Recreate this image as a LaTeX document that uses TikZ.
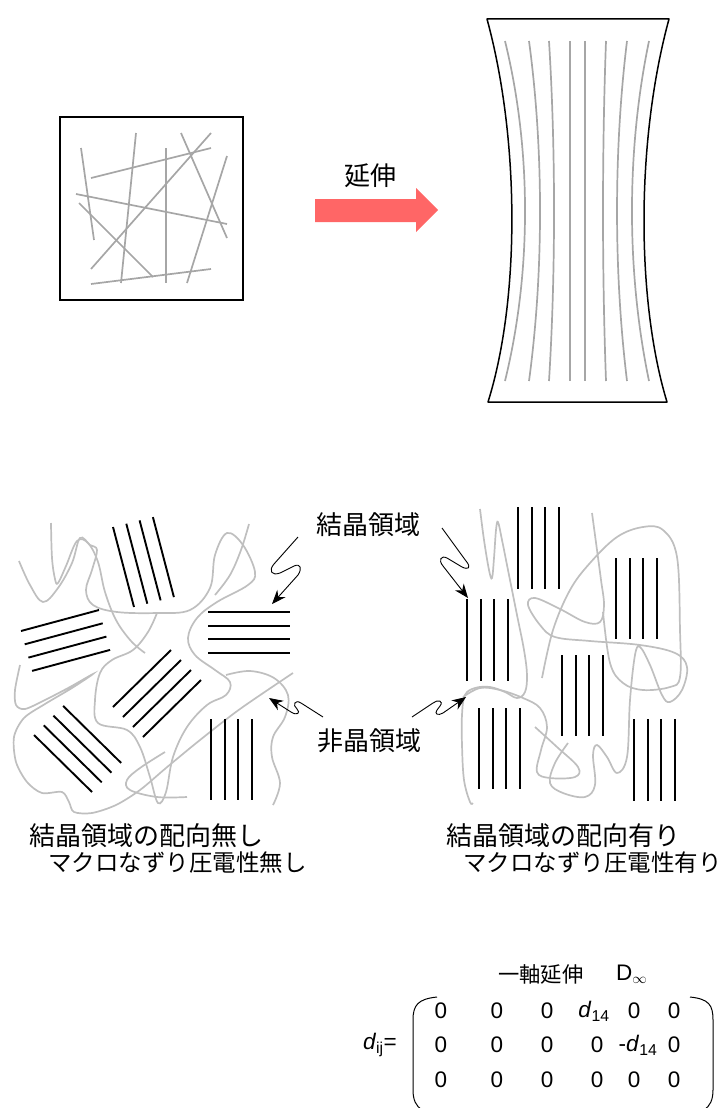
\documentclass[tikz,border=0pt]{standalone}
\usepackage{fontspec}
\setmainfont{Liberation Sans}
\newfontfamily\jp{Noto Sans CJK JP}
\usetikzlibrary{arrows.meta}
\definecolor{fibgray}{HTML}{A6A6A6}
\definecolor{amgray}{HTML}{BFBFBF}
\definecolor{pullred}{HTML}{FF6666}

\begin{document}
\begin{tikzpicture}[x=1pt,y=-1pt,
  outline/.style={draw=black,line width=1.5pt},
  fib/.style={draw=fibgray,line width=1.7pt},
  amor/.style={draw=amgray,line width=1.7pt},
  xtal/.style={draw=black,line width=1.9pt},
  callout/.style={draw=black,line width=0.9pt,-{Stealth[length=14pt,width=11pt]}},
  jbig/.style={font=\jp\fontsize{26}{30}\selectfont,inner sep=0pt},
  jcap/.style={font=\jp\fontsize{26}{30}\selectfont,inner sep=0pt,anchor=west},
  jcapsmall/.style={font=\jp\fontsize{23.5}{28}\selectfont,inner sep=0pt,anchor=west},
  mat/.style={font=\fontsize{22.5}{26}\selectfont,inner sep=0pt},
]
\useasboundingbox (0,0) rectangle (727,1108);

% ---------- unstretched film: random fibres in a square ----------
\node[outline,minimum width=183pt,minimum height=183pt,inner sep=0pt] (film) at (151.5,208.5) {};
\draw[fib] (81,148) -- (94,240);
\draw[fib] (91,178) -- (211,148);
\draw[fib] (136,133) -- (121,283);
\draw[fib] (166,148) -- (166,283);
\draw[fib] (181,133) -- (227,238);
\draw[fib] (211,133) -- (91,269);
\draw[fib] (76,194) -- (227,224);
\draw[fib] (79,203) -- (153,277);
\draw[fib] (227,156) -- (187,283);
\draw[fib] (91,284) -- (211,269);

% ---------- stretching arrow ----------
\fill[pullred] (315,199) -- (416,199) -- (416,188) -- (438,210) -- (416,232) -- (416,222) -- (315,222) -- cycle;
\node[jbig] (pull) at (370,176) {延伸};

% ---------- stretched film ----------
\draw[outline,line join=round] (487,19) -- (669,19)
  .. controls (636,140) and (636,300) .. (667,402) -- (488,402)
  .. controls (520,300) and (520,140) .. (487,19) -- cycle;
\foreach \xt/\xc in {505/531.7,529/543.7,549/555.7,570/570,585/585,606/602,627/613.7,649/626.3}
  \draw[fib] (\xt,41) .. controls (\xc,150) and (\xc,272) .. (\xt,381);

% ---------- left: amorphous chains ----------
\draw[amor] plot[smooth,tension=0.6] coordinates {(19,561) (30,585) (43,602) (58,588) (72,563) (80,538) (90,545) (97,550) (92,570) (86,590) (93,605) (117,612) (157,613) (190,610) (210,588) (215,555) (227,533) (243,545) (255,572) (248,585) (217,602) (197,618) (188,638) (195,655) (215,670) (230,682) (226,695) (207,705) (187,727) (173,757) (166,792) (158,803) (150,777) (140,747) (127,730) (98,723) (95,700) (100,673) (112,660) (133,650) (148,632) (157,613)};
\draw[amor] plot[smooth,tension=0.6] coordinates {(51,523) (52,558) (55,579) (58,583) (66,566) (77,541) (88,543) (98,562) (105,592) (116,620) (131,641) (145,653)};
\draw[amor] plot[smooth,tension=0.6] coordinates {(249,524) (241,550) (230,575) (215,595)};
\draw[amor] plot[smooth,tension=0.5] coordinates {(20,665) (15,690) (16,705) (25,709) (45,700) (70,687) (93,674) (72,688) (45,704) (24,718) (14,737) (16,762) (27,782) (42,793) (62,792) (69,802) (74,812) (92,813) (116,805) (140,790) (166,768) (200,740) (240,709) (293,673)};
\draw[amor] plot[smooth,tension=0.6] coordinates {(187,797) (157,797) (130,790) (127,780) (140,768) (165,752)};
\draw[amor] plot[smooth,tension=0.6] coordinates {(226,675) (250,671) (274,678) (288,695) (285,717) (273,737) (272,757) (280,783) (273,805)};

% ---------- left: randomly oriented crystallites ----------
\foreach \i in {0,...,3} {
  \draw[xtal,shift={(\i*13.3,-\i*3.3)}] (113,527) -- (134,607);
  \draw[xtal,shift={(\i*3.7,\i*13.3)}] (21,631) -- (99,610);
  \draw[xtal,shift={(0,\i*13.7)}] (208,612) -- (290,612);
  \draw[xtal,shift={(\i*10,\i*10)}] (113,707) -- (171,650);
  \draw[xtal,shift={(\i*9.7,-\i*9.7)}] (34,735) -- (92,792);
  \draw[xtal,shift={(\i*13.7,0)}] (211,719) -- (211,800);
}

% ---------- right: amorphous chains ----------
\draw[amor] plot[smooth,tension=0.6] coordinates {(480,509) (484,540) (489,570) (492,578) (494,558) (496,530) (498,522) (502,540) (508,570) (517,615) (524,650) (527,675) (525,692) (517,698) (505,692) (490,687) (475,688) (465,695) (462,715) (462,745) (464,780) (470,802) (473,803)};
\draw[amor] plot[smooth,tension=0.6] coordinates {(463,697) (480,688) (500,690) (523,698) (540,708) (547,727) (541,750) (537,772) (550,778) (575,777) (578,767) (557,747) (535,727)};
\draw[amor] plot[smooth,tension=0.6] coordinates {(568,743) (555,763) (550,783) (563,793) (585,797) (595,785) (593,755) (597,745) (607,757) (617,773) (627,757) (630,700) (635,655) (640,647) (650,665) (662,695) (670,702) (682,690) (687,667) (675,653) (640,645) (590,641) (555,637) (540,625) (528,605) (535,598) (560,609) (585,622) (600,622) (604,605) (601,580) (597,550) (592,513)};
\draw[amor] plot[smooth,tension=0.6] coordinates {(542,678) (553,630) (570,590) (590,563) (617,537) (643,527) (663,530) (677,557) (680,630) (680,677) (670,687) (643,690) (623,683) (610,663) (603,612)};

% ---------- right: aligned crystallites ----------
\foreach \xs/\ya/\yb in {518/507/589,467/599/681,616/558/639,562/655/736,479/708/789,634/719/801}
  \foreach \i in {0,...,3}
    \draw[xtal,shift={(\i*13.7,0)}] (\xs,\ya) -- (\xs,\yb);

% ---------- region labels and call-outs ----------
\node[jbig] (cryst) at (368,525) {結晶領域};
\node[jbig] (amorph) at (369,741) {非晶領域};
\coordinate (cL) at (298,537);  \coordinate (cLt) at (272,604);
\coordinate (cR) at (442,528);  \coordinate (cRt) at (468,598);
\coordinate (aL) at (323,717);  \coordinate (aLt) at (269,698);
\coordinate (aR) at (412,717);  \coordinate (aRt) at (466,697);
\draw[callout] (cL) -- (274,564) .. controls (268,571) and (272,576) .. (280,573) -- (294,566)
  .. controls (301,563) and (302,569) .. (298,575) -- (cLt);
\draw[callout] (cR) -- (466,561) .. controls (472,568) and (468,570) .. (462,567) -- (447,558)
  .. controls (441,555) and (438,560) .. (443,566) -- (cRt);
\draw[callout] (aL) -- (301,703) .. controls (295,699) and (292,705) .. (297,709)
  .. controls (301,713) and (297,716) .. (291,712) -- (aLt);
\draw[callout] (aR) -- (433,703) .. controls (438,699) and (444,701) .. (440,706) -- (437,710)
  .. controls (434,714) and (438,716) .. (443,713) -- (aRt);

% ---------- captions ----------
\node[jcap] (capL1) at (29,836) {結晶領域の配向無し};
\node[jcapsmall] (capL2) at (48,863) {マクロなずり圧電性無し};
\node[jcap] (capR1) at (446,836) {結晶領域の配向有り};
\node[jcapsmall] (capR2) at (463,863) {マクロなずり圧電性有り};

% ---------- piezoelectric tensor ----------
\node[font=\jp\fontsize{21.3}{25}\selectfont,inner sep=0pt,anchor=west] (title) at (498,974) {一軸延伸};
\node[mat,anchor=west] (sym) at (616,974) {D\textsubscript{$\infty$}};
\node[mat,anchor=east] (dij) at (397,1045) {\textit{d}\textsubscript{ij}=};
\draw[line width=1pt] (437,997) .. controls (418,999) and (413,1005) .. (413,1020) -- (413,1090)
  .. controls (413,1100) and (416,1106) .. (422,1110);
\draw[line width=1pt] (690,997) .. controls (709,999) and (713,1005) .. (713,1020) -- (713,1090)
  .. controls (713,1100) and (710,1106) .. (704,1110);
\foreach \x in {441,497,547,634,674} \node[mat] at (\x,1011) {0};
\node[mat] (d14) at (594,1011) {\textit{d}\textsubscript{14}};
\foreach \x in {441,497,547,597,674} \node[mat] at (\x,1045) {0};
\node[mat] (md14) at (638,1045) {-\textit{d}\textsubscript{14}};
\foreach \x in {441,497,547,597,634,674} \node[mat] at (\x,1080) {0};
\end{tikzpicture}
\end{document}
